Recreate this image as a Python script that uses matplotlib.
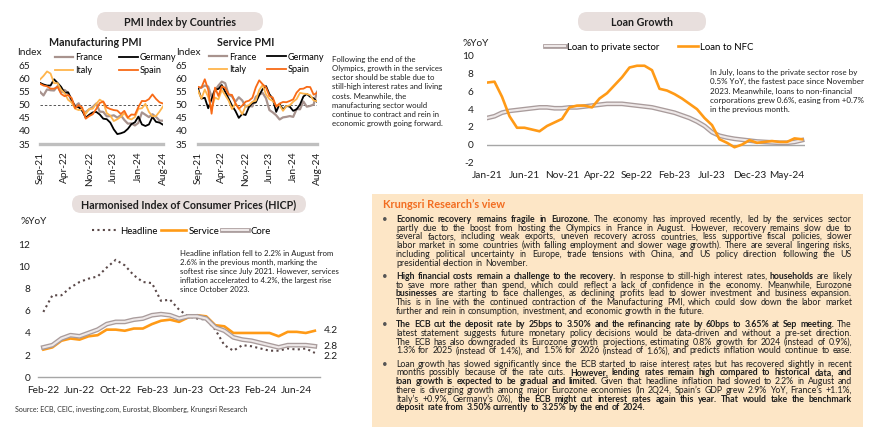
import matplotlib
matplotlib.use('Agg')
import matplotlib.pyplot as plt
import matplotlib.patheffects as pe
from matplotlib.patches import FancyBboxPatch, Rectangle
import pandas as pd

W, H = 870, 440
FONT = ['Lato', 'DejaVu Sans']
plt.rcParams['font.family'] = FONT
plt.rcParams['axes.unicode_minus'] = False

# ---------------- data ----------------
pmi_months = list(pd.date_range('2021-09-01', periods=36, freq='MS').strftime('%b-%y'))
pmi_ticks = ['Sep-21', 'Apr-22', 'Nov-22', 'Jun-23', 'Jan-24', 'Aug-24']
pmi_countries = ['France', 'Germany', 'Italy', 'Spain']

mfg_france = [55.0, 53.6, 55.9, 55.6, 55.5, 57.2, 54.7, 55.7, 54.6, 51.4, 49.5, 50.6, 47.7, 47.2, 48.3, 49.2, 50.5, 47.4,
              47.3, 45.6, 45.7, 46.0, 45.1, 46.0, 44.2, 42.8, 42.9, 42.1, 43.1, 47.1, 46.2, 45.3, 46.4, 45.4, 44.0, 43.9]
mfg_germany = [58.4, 57.8, 57.4, 57.4, 59.8, 58.4, 56.9, 54.6, 54.8, 52.0, 49.3, 49.1, 47.8, 45.1, 46.2, 47.1, 47.3, 46.3,
               44.7, 44.5, 43.2, 40.6, 38.8, 39.1, 39.6, 40.8, 42.6, 43.3, 45.5, 42.5, 41.9, 42.5, 45.4, 43.5, 43.2, 42.4]
mfg_italy = [59.7, 61.1, 62.8, 62.0, 58.3, 58.3, 55.8, 54.5, 51.9, 50.9, 48.5, 48.0, 48.3, 46.5, 48.4, 48.5, 50.4, 52.0,
             51.1, 46.8, 45.9, 43.8, 44.5, 45.4, 46.8, 44.9, 44.4, 45.3, 48.5, 48.7, 50.4, 47.3, 45.6, 45.7, 47.4, 49.4]
mfg_spain = [58.1, 57.4, 57.1, 56.2, 56.2, 56.9, 54.2, 53.3, 53.8, 52.6, 48.7, 49.9, 49.0, 44.7, 45.7, 46.4, 48.4, 50.7,
             51.3, 49.0, 48.4, 48.0, 47.8, 46.5, 47.7, 45.1, 46.3, 46.2, 49.2, 51.5, 51.4, 52.2, 54.0, 52.3, 51.0, 50.5]

svc_france = [56.2, 56.6, 57.4, 57.0, 53.1, 55.5, 57.4, 58.9, 58.3, 53.9, 53.2, 51.2, 52.9, 51.7, 49.3, 49.5, 49.4, 53.1,
              53.9, 54.6, 52.5, 48.0, 47.1, 46.0, 44.4, 45.2, 45.4, 45.7, 45.4, 48.4, 48.3, 51.3, 49.3, 49.6, 50.1, 55.0]
svc_germany = [56.2, 52.4, 52.7, 48.7, 52.2, 55.8, 56.1, 57.6, 55.0, 52.4, 49.7, 47.7, 45.0, 46.5, 46.1, 49.2, 50.7, 50.9,
               53.7, 56.0, 57.2, 54.1, 52.3, 47.3, 50.3, 48.2, 49.6, 49.3, 47.7, 48.3, 50.1, 53.2, 54.2, 53.1, 52.5, 51.2]
svc_italy = [55.5, 52.4, 55.9, 53.0, 48.5, 52.8, 52.1, 55.7, 53.7, 51.6, 48.4, 50.5, 48.8, 46.4, 49.5, 49.9, 51.2, 51.6,
             55.7, 57.6, 54.0, 52.2, 51.5, 49.8, 49.9, 47.7, 49.5, 49.8, 51.2, 52.2, 54.6, 54.3, 54.2, 53.7, 51.7, 51.4]
svc_spain = [56.9, 56.6, 59.8, 55.8, 46.6, 56.6, 53.4, 57.1, 56.5, 54.0, 53.8, 50.6, 48.5, 49.7, 51.2, 51.6, 52.7, 56.7,
             59.4, 57.9, 56.7, 53.4, 52.8, 49.3, 50.5, 51.1, 51.0, 51.5, 52.1, 54.7, 56.1, 56.2, 56.9, 56.8, 53.9, 54.6]

loan_months = list(pd.date_range('2021-01-01', periods=43, freq='MS').strftime('%b-%y'))
loan_ticks = ['Jan-21', 'Jun-21', 'Nov-21', 'Apr-22', 'Sep-22', 'Feb-23', 'Jul-23', 'Dec-23', 'May-24']
loan_series = ['Loan to private sector', 'Loan to NFC']
loan_private = [3.0, 3.2, 3.6, 3.8, 3.9, 4.0, 4.1, 4.2, 4.2, 4.1, 4.1, 4.2, 4.2, 4.3, 4.4, 4.5, 4.6, 4.6, 4.6, 4.5,
                4.4, 4.3, 4.2, 4.0, 3.8, 3.6, 3.3, 3.0, 2.6, 2.1, 1.4, 1.0, 0.8, 0.65, 0.55, 0.45, 0.35, 0.3, 0.25,
                0.2, 0.2, 0.3, 0.5]
loan_nfc = [7.0, 7.1, 5.4, 3.2, 1.9, 1.9, 1.7, 1.5, 2.1, 2.5, 2.9, 4.2, 4.4, 4.4, 4.2, 5.2, 5.8, 6.7, 7.6, 8.7, 8.9,
            8.9, 8.4, 6.3, 6.1, 5.7, 5.2, 4.6, 4.0, 3.0, 2.2, 0.6, 0.2, -0.3, 0.0, 0.5, 0.2, 0.3, 0.4, 0.3, 0.3, 0.7, 0.6]

hicp_months = list(pd.date_range('2022-02-01', periods=31, freq='MS').strftime('%b-%y'))
hicp_ticks = ['Feb-22', 'Jun-22', 'Oct-22', 'Feb-23', 'Jun-23', 'Oct-23', 'Feb-24', 'Jun-24']
hicp_series = ['Headline', 'Service', 'Core']
hicp_headline = [5.9, 7.4, 7.4, 8.1, 8.6, 8.9, 9.1, 9.9, 10.6, 10.1, 9.2, 8.6, 8.5, 6.9, 7.0, 6.1, 5.5, 5.3, 5.2, 4.3,
                 2.9, 2.4, 2.9, 2.8, 2.6, 2.4, 2.4, 2.6, 2.5, 2.6, 2.2]
hicp_service = [2.5, 2.7, 3.3, 3.5, 3.4, 3.7, 3.8, 4.3, 4.3, 4.2, 4.4, 4.4, 4.8, 5.1, 5.2, 5.0, 5.4, 5.6, 5.5, 4.7,
                4.6, 4.0, 4.0, 4.0, 4.0, 4.0, 3.7, 4.1, 4.1, 4.0, 4.2]
hicp_core = [2.7, 2.9, 3.5, 3.8, 3.7, 4.0, 4.3, 4.8, 5.0, 5.0, 5.2, 5.3, 5.6, 5.7, 5.6, 5.3, 5.5, 5.5, 5.3, 4.5,
             4.2, 3.6, 3.4, 3.3, 3.1, 2.9, 2.7, 2.9, 2.9, 2.9, 2.8]

# ---------------- styles ----------------
C_FR, C_DE, C_IT, C_ES = '#A8938E', '#000000', '#FFB54C', '#F86A16'
C_OR = '#FF9A16'
GRAY_OUT, GRAY_IN = '#A99C9C', '#EEE8E8'
TXT = '#1E1E1E'
PILL = '#E8DFDD'
BOX = '#FDE6C6'
TICK_FS = 7.3

fig = plt.figure(figsize=(W / 100, H / 100), dpi=100)
bg = fig.add_axes([0, 0, 1, 1])
bg.set_xlim(0, W)
bg.set_ylim(H, 0)
bg.axis('off')
bg.set_zorder(0)


def px_axes(l, t, r, b):
    ax = fig.add_axes([l / W, 1 - b / H, (r - l) / W, (b - t) / H])
    ax.set_facecolor('none')
    ax.set_zorder(2)
    return ax


def pill(x0, y0, x1, y1, text):
    bg.add_patch(FancyBboxPatch((x0, y0), x1 - x0, y1 - y0,
                                boxstyle='round,pad=0,rounding_size=9', fc=PILL, ec='none'))
    bg.text((x0 + x1) / 2, (y0 + y1) / 2 + 0.5, text, ha='center', va='center',
            fontsize=7.7, fontweight='bold', color=TXT)


def lines_text(x, y0, step, lines, fs, color=TXT):
    for i, s in enumerate(lines):
        bg.text(x, y0 + i * step, s, ha='left', va='center', fontsize=fs, color=color)


gray_pe = [pe.Stroke(linewidth=3.4, foreground=GRAY_OUT), pe.Normal()]

# ---------------- PMI ----------------
pill(97, 12, 263, 31, 'PMI Index by Countries')


def pmi_chart(rect, series, title, title_x, idx_x, legend_xy, colsp, ypad):
    ax = px_axes(*rect)
    x = list(range(len(pmi_months)))
    cols = [C_FR, C_DE, C_IT, C_ES]
    hs = {}
    for name, vals, c in zip(pmi_countries, series, cols):
        lw = 1.6 if name == 'France' else 1.3
        hs[name], = ax.plot(x, vals, color=c, lw=lw, label=name, solid_joinstyle='round')
    ax.axhline(50, color='#555555', lw=0.7, ls=(0, (2.5, 2)), zorder=0.5)
    ax.set_xlim(0, len(pmi_months) - 1)
    ax.set_ylim(35, 65)
    ax.set_yticks(range(35, 66, 5))
    ax.set_xticks([pmi_months.index(t) for t in pmi_ticks])
    ax.set_xticklabels(pmi_ticks, rotation=90)
    for s in ['top', 'right', 'left']:
        ax.spines[s].set_visible(False)
    ax.spines['bottom'].set_color('#BFBFBF')
    ax.spines['bottom'].set_linewidth(2.4)
    ax.tick_params(axis='both', length=0, labelsize=TICK_FS, colors=TXT)
    ax.tick_params(axis='y', pad=ypad)
    ax.tick_params(axis='x', pad=5.5)
    ax.legend([hs['France'], hs['Italy'], hs['Germany'], hs['Spain']],
              ['France', 'Italy', 'Germany', 'Spain'], ncol=2, loc='upper left',
              bbox_to_anchor=(legend_xy[0] / W, 1 - legend_xy[1] / H), bbox_transform=fig.transFigure,
              frameon=False, fontsize=6.6, handlelength=2.0, handletextpad=0.25,
              columnspacing=colsp, labelspacing=0.42, borderpad=0, borderaxespad=0)
    bg.text(title_x, 43, title, ha='center', va='center', fontsize=7.7, fontweight='bold', color=TXT)
    bg.text(idx_x, 52.5, 'Index', ha='left', va='center', fontsize=TICK_FS, color=TXT)
    return ax


pmi_chart((40, 65.7, 163, 144), [mfg_france, mfg_germany, mfg_italy, mfg_spain],
          'Manufacturing PMI', 95.5, 17, (55, 53.5), 1.8, 7.0)
pmi_chart((198, 65.7, 317, 144), [svc_france, svc_germany, svc_italy, svc_spain],
          'Service PMI', 246, 176, (209, 52.5), 1.15, 7.8)

lines_text(332, 59.3, 9.2, ['Following the end of the',
                            'Olympics, growth in the services',
                            'sector should be stable due to',
                            'still-high interest rates and living',
                            'costs. Meanwhile, the',
                            'manufacturing sector would',
                            'continue to contract and rein in',
                            'economic growth going forward.'], 5.55)

# ---------------- Loan growth ----------------
pill(578, 12, 706, 31, 'Loan Growth')
axl = px_axes(487, 56, 805, 162.3)
xl = list(range(len(loan_months)))
axl.axhline(0, color='#A6A6A6', lw=1.0, zorder=0.5)
hp, = axl.plot(xl, loan_private, color=GRAY_IN, lw=1.5, path_effects=gray_pe, label=loan_series[0])
hn, = axl.plot(xl, loan_nfc, color=C_OR, lw=1.9, label=loan_series[1], solid_joinstyle='round')
axl.set_xlim(0, 42.4)
axl.set_ylim(-2, 10)
axl.set_yticks(range(-2, 11, 2))
axl.set_xticks([loan_months.index(t) for t in loan_ticks])
axl.set_xticklabels(loan_ticks)
for s in axl.spines.values():
    s.set_visible(False)
axl.tick_params(axis='both', length=0, labelsize=TICK_FS, colors=TXT)
axl.tick_params(axis='y', pad=9.5)
axl.tick_params(axis='x', pad=6.0)
axl.legend([hp, hn], loan_series, ncol=2, loc='upper left',
           bbox_to_anchor=(545 / W, 1 - 42.5 / H), bbox_transform=fig.transFigure,
           frameon=False, fontsize=6.9, handlelength=2.1, handletextpad=0.2,
           columnspacing=1.9, borderpad=0, borderaxespad=0)
bg.text(463, 43, '%YoY', ha='left', va='center', fontsize=TICK_FS, color=TXT)
lines_text(710, 72.8, 9.15, ['In July, loans to the private sector rose by',
                             '0.5% YoY, the fastest pace since November',
                             '2023. Meanwhile, loans to non-financial',
                             'corporations grew 0.6%, easing from +0.7%',
                             'in the previous month.'], 5.8)

# ---------------- HICP ----------------
pill(72, 195, 306, 213, 'Harmonised Index of Consumer Prices (HICP)')
axh = px_axes(38, 244.3, 320, 377.3)
xh = list(range(len(hicp_months)))
h1, = axh.plot(xh, hicp_headline, color='#5A4848', lw=1.5, ls=(0, (1, 1.6)), label=hicp_series[0])
h2, = axh.plot(xh, hicp_service, color=C_OR, lw=1.9, label=hicp_series[1], solid_joinstyle='round')
h3, = axh.plot(xh, hicp_core, color=GRAY_IN, lw=1.5, path_effects=gray_pe, label=hicp_series[2])
axh.set_xlim(-0.59, 30.57)
axh.set_ylim(0, 12)
axh.set_yticks(range(0, 13, 2))
axh.set_xticks([hicp_months.index(t) for t in hicp_ticks])
axh.set_xticklabels(hicp_ticks)
for s in ['top', 'right', 'left']:
    axh.spines[s].set_visible(False)
axh.spines['bottom'].set_color('#A6A6A6')
axh.spines['bottom'].set_linewidth(1.0)
axh.tick_params(axis='both', length=0, labelsize=TICK_FS, colors=TXT)
axh.tick_params(axis='y', pad=5.6)
axh.tick_params(axis='x', pad=6.6)
axh.legend([h1, h2, h3], hicp_series, ncol=3, loc='upper left',
           bbox_to_anchor=(92 / W, 1 - 226.5 / H), bbox_transform=fig.transFigure,
           frameon=False, fontsize=6.9, handlelength=2.7, handletextpad=0.25,
           columnspacing=0.3, borderpad=0, borderaxespad=0)
bg.text(21, 222, '%YoY', ha='left', va='center', fontsize=TICK_FS, color=TXT)
end_x = len(hicp_months)
axh.text(end_x, hicp_service[-1], f'{hicp_service[-1]:.1f}', ha='left', va='center',
         fontsize=TICK_FS, color=TXT, clip_on=False)
axh.text(end_x, hicp_core[-1], f'{hicp_core[-1]:.1f}', ha='left', va='center',
         fontsize=TICK_FS, color=TXT, clip_on=False)
axh.text(end_x, hicp_headline[-1] - 0.3, f'{hicp_headline[-1]:.1f}', ha='left', va='center',
         fontsize=TICK_FS, color=TXT, clip_on=False)
lines_text(180, 253.2, 9.1, ['Headline inflation fell to 2.2% in August from',
                             '2.6% in the previous month, marking the',
                             'softest rise since July 2021. However, services',
                             'inflation accelerated to 4.2%, the largest rise',
                             'since October 2023.'], 5.55)

bg.text(15, 409.5, 'Source: ECB, CEIC, investing.com, Eurostat, Bloomberg, Krungsri Research',
        ha='left', va='center', fontsize=5.1, color='#333333')

# ---------------- Krungsri view box ----------------
bg.add_patch(Rectangle((372, 194), 491, 233, fc=BOX, ec='none'))
bg.text(383, 204.5, 'Krungsri Research\u2019s view', ha='left', va='center', fontsize=7.9,
        fontweight='bold', color='#F26D21')

view = [
    [[("Economic recovery remains fragile in Eurozone.", 1), ("The economy has improved recently, led by the services sector", 0)],
     [("partly due to the boost from hosting the Olympics in France in August. However, recovery remains slow due to", 0)],
     [("several factors, including weak exports, uneven recovery across countries, less supportive fiscal policies, slower", 0)],
     [("labor market in some countries (with falling employment and slower wage growth). There are several lingering risks,", 0)],
     [("including political uncertainty in Europe, trade tensions with China, and US policy direction following the US", 0)],
     [("presidential election in November.", 0)]],
    [[("High financial costs remain a challenge to the recovery.", 1), ("In response to still-high interest rates,", 0),
      ("households", 1), ("are likely", 0)],
     [("to save more rather than spend, which could reflect a lack of confidence in the economy. Meanwhile, Eurozone", 0)],
     [("businesses", 1), ("are starting to face challenges, as declining profits lead to slower investment and business expansion.", 0)],
     [("This is in line with the continued contraction of the Manufacturing PMI, which could slow down the labor market", 0)],
     [("further and rein in consumption, investment, and economic growth in the future.", 0)]],
    [[("The ECB cut the deposit rate by 25bps to 3.50% and the refinancing rate by 60bps to 3.65% at Sep meeting.", 1), ("The", 0)],
     [("latest statement suggests future monetary policy decisions would be data-driven and without a pre-set direction.", 0)],
     [("The ECB has also downgraded its Eurozone growth projections, estimating 0.8% growth for 2024 (instead of 0.9%),", 0)],
     [("1.3% for 2025 (instead of 1.4%), and 1.5% for 2026 (instead of 1.6%), and predicts inflation would continue to ease.", 0)]],
    [[("Loan growth has slowed significantly since the ECB started to raise interest rates but has recovered slightly in recent", 0)],
     [("months possibly because of the rate cuts.", 0), ("However, lending rates remain high compared to historical data, and", 1)],
     [("loan growth is expected to be gradual and limited.", 1), ("Given that headline inflation had slowed to 2.2% in August and", 0)],
     [("there is diverging growth among major Eurozone economies (In 2Q24, Spain\u2019s GDP grew 2.9% YoY, France\u2019s +1.1%,", 0)],
     [("Italy\u2019s +0.9%, Germany\u2019s 0%),", 0), ("the ECB might cut interest rates again this year. That would take the benchmark", 1)],
     [("deposit rate from 3.50% currently to 3.25% by the end of 2024.", 1)]],
]
no_justify = {(0, 5), (1, 4), (3, 5)}

X0, X1 = 396, 852
renderer = fig.canvas.get_renderer()
_cache = {}


def wwidth(w, bold, fs):
    key = (w, bold, fs)
    if key not in _cache:
        t = bg.text(0, 0, w, fontsize=fs, fontweight='bold' if bold else 'normal')
        _cache[key] = t.get_window_extent(renderer).width
        t.remove()
    return _cache[key]


def words_of(segs):
    out = []
    for txt, b in segs:
        for w in txt.split():
            out.append((w, b))
    return out


def space_w(fs):
    return wwidth('a a', 0, fs) - wwidth('aa', 0, fs)


base = 6.0
worst = 0
for pi, para in enumerate(view):
    for li, segs in enumerate(para):
        if (pi, li) in no_justify:
            continue
        wds = words_of(segs)
        nat = sum(wwidth(w, b, base) for w, b in wds) + space_w(base) * (len(wds) - 1)
        worst = max(worst, nat / (X1 - X0))
fs = round(base * 0.99 / worst, 2)

y = 219.3
STEP, GAP = 8.75, 4.5
for pi, para in enumerate(view):
    bg.text(385, y, '\u2022', ha='center', va='center', fontsize=7, color='#555555')
    for li, segs in enumerate(para):
        wds = words_of(segs)
        widths = [wwidth(w, b, fs) for w, b in wds]
        if (pi, li) in no_justify or len(wds) < 2:
            gap = space_w(fs)
        else:
            gap = (X1 - X0 - sum(widths)) / (len(wds) - 1)
        x = X0
        for (w, b), wd in zip(wds, widths):
            bg.text(x, y, w, ha='left', va='center', fontsize=fs,
                    fontweight='bold' if b else 'normal', color=TXT)
            x += wd + gap
        y += STEP
    y += GAP

fig.savefig('out.png', dpi=100)
